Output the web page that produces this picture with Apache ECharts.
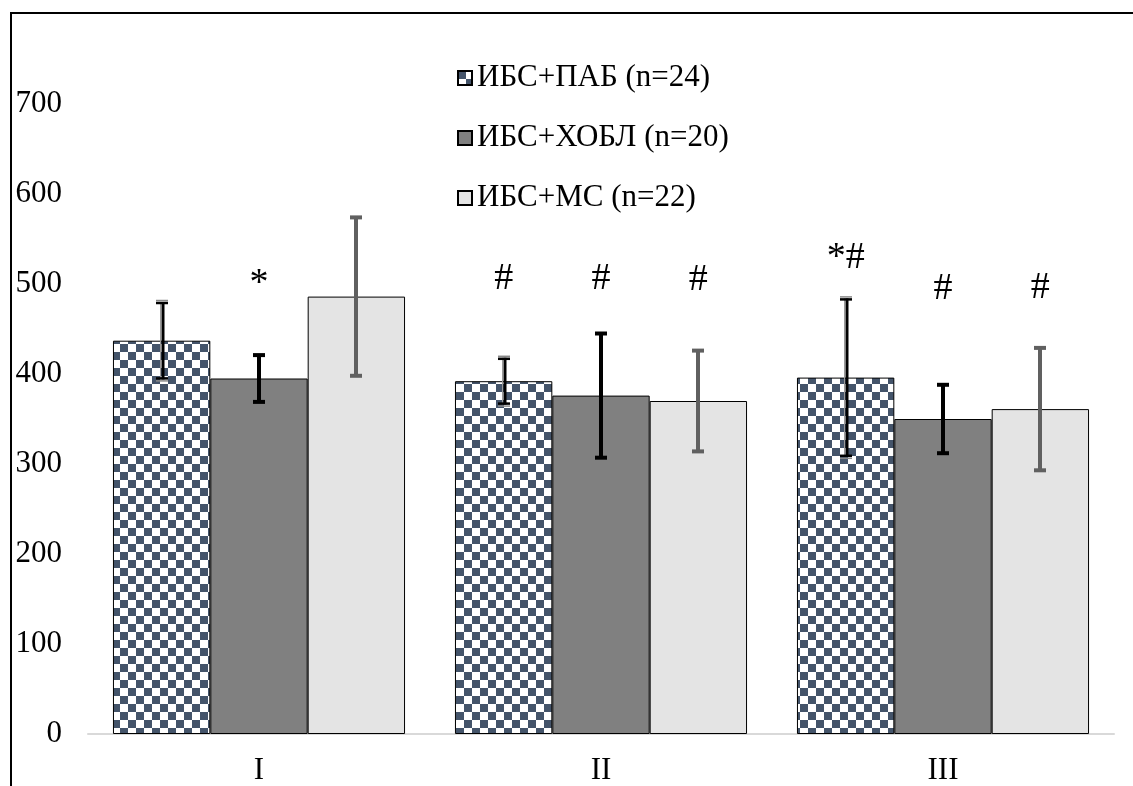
<!DOCTYPE html>
<html><head><meta charset="utf-8">
<script src="https://cdn.jsdelivr.net/npm/echarts@6/dist/echarts.min.js"></script>
<style>
html,body{margin:0;padding:0;background:#fff;}
#frame{position:absolute;left:10px;top:12px;width:1200px;height:900px;border-left:2px solid #000;border-top:2px solid #000;}
#chart{position:absolute;left:0;top:0;width:1133px;height:786px;}
</style></head>
<body>
<div id="frame"></div>
<div id="chart"></div>
<script>
const categories = ['I', 'II', 'III'];
const seriesNames = ['ИБС+ПАБ (n=24)', 'ИБС+ХОБЛ (n=20)', 'ИБС+МС (n=22)'];
const pabMean = [437, 392, 396];
const pabErr = [43, 26, 88];
const hoblMean = [395, 376, 350];
const hoblErr = [26, 69, 38];
const msMean = [486, 370, 361];
const msErr = [88, 56, 68];
const yTicks = [0, 100, 200, 300, 400, 500, 600, 700];
// annotations: [categoryIndex, seriesIndex, level, text]
const annotations = [
  [0, 1, 500, '*'],
  [1, 0, 505, '#'],
  [1, 1, 505, '#'],
  [1, 2, 504, '#'],
  [2, 0, 529, '*#'],
  [2, 1, 494, '#'],
  [2, 2, 496, '#']
];

const FONT = '"Liberation Serif", "Times New Roman", serif';
const GAP = 0.146;

// checker pattern
const pc = document.createElement('canvas');
pc.width = 16; pc.height = 16;
const ctx = pc.getContext('2d');
ctx.fillStyle = '#ffffff'; ctx.fillRect(0, 0, 16, 16);
ctx.fillStyle = '#44546A';
ctx.fillRect(0, 0, 8, 8); ctx.fillRect(8, 8, 8, 8);

const means = [pabMean, hoblMean, msMean];
const errs = [pabErr, hoblErr, msErr];
const fills = [{image: pc, repeat: 'repeat'}, '#808080', '#E4E4E4'];
const errColors = ['#000000', '#000000', '#606060'];

function barCenter(api, cat, s) {
  const band = api.size([1, 0])[0];
  const bw = band * (1 - GAP) / 3;
  const cx = api.coord([cat, 0])[0];
  return {x: cx + (s - 1) * bw, bw: bw};
}

const series = [];
for (let s = 0; s < 3; s++) {
  series.push({
    name: seriesNames[s], type: 'bar', barGap: 0, barCategoryGap: (GAP * 100) + '%',
    data: means[s],
    itemStyle: {color: fills[s], borderColor: '#000', borderWidth: 1},
    z: 2
  });
}
for (let s = 0; s < 3; s++) {
  series.push({
    type: 'custom', z: 5, silent: true,
    data: means[s].map((m, i) => [i, m, errs[s][i]]),
    renderItem: function (params, api) {
      const cat = api.value(0), m = api.value(1), e = api.value(2);
      const c = barCenter(api, cat, s);
      const yt = api.coord([cat, m + e])[1];
      const yb = api.coord([cat, m - e])[1];
      const x = Math.round(c.x);
      const cap = 6;
      const children = [];
      if (s === 0) {
        children.push({type: 'line', shape: {x1: x - 1.5, y1: yt, x2: x - 1.5, y2: yb}, style: {stroke: '#9a9a9a', lineWidth: 1}});
        children.push({type: 'line', shape: {x1: x + 1, y1: yt, x2: x + 1, y2: yb}, style: {stroke: '#000', lineWidth: 3}});
        children.push({type: 'line', shape: {x1: x - cap, y1: yt - 1.5, x2: x + cap, y2: yt - 1.5}, style: {stroke: '#888', lineWidth: 1.5}});
        children.push({type: 'line', shape: {x1: x - cap, y1: yt + 1, x2: x + cap, y2: yt + 1}, style: {stroke: '#000', lineWidth: 2.5}});
        children.push({type: 'line', shape: {x1: x - cap, y1: yb + 1.5, x2: x + cap, y2: yb + 1.5}, style: {stroke: '#888', lineWidth: 1.5}});
        children.push({type: 'line', shape: {x1: x - cap, y1: yb - 1, x2: x + cap, y2: yb - 1}, style: {stroke: '#000', lineWidth: 2.5}});
      } else {
        const st = {stroke: errColors[s], lineWidth: 4};
        children.push({type: 'line', shape: {x1: x, y1: yt, x2: x, y2: yb}, style: st});
        children.push({type: 'line', shape: {x1: x - cap, y1: yt, x2: x + cap, y2: yt}, style: st});
        children.push({type: 'line', shape: {x1: x - cap, y1: yb, x2: x + cap, y2: yb}, style: st});
      }
      return {type: 'group', children: children};
    }
  });
}
series.push({
  type: 'custom', z: 6, silent: true,
  data: annotations.map(a => [a[0], a[2], a[1], a[3]]),
  dimensions: ['cat', 'lvl', 'sidx', {name: 'txt', type: 'ordinal'}],
  renderItem: function (params, api) {
    const a = annotations[params.dataIndex];
    const c = barCenter(api, a[0], a[1]);
    const y = api.coord([a[0], a[2]])[1];
    return {type: 'text', style: {text: a[3], x: c.x, y: y, align: 'center', verticalAlign: 'middle',
      font: '38px ' + FONT, fill: '#000'}};
  }
});

const chart = echarts.init(document.getElementById('chart'), null, {renderer: 'canvas'});
chart.setOption({
  animation: false,
  backgroundColor: 'transparent',
  grid: {left: 88, right: 19, top: 104, bottom: 50},
  legend: {
    data: seriesNames, orient: 'vertical', left: 452, top: 57,
    icon: 'rect',
    itemWidth: 14, itemHeight: 14, itemGap: 28,
    textStyle: {fontFamily: FONT, fontSize: 31, color: '#000', lineHeight: 32, padding: [0, 0, 0, 0]},
    selectedMode: false
  },
  xAxis: {
    type: 'category', data: categories,
    axisLine: {lineStyle: {color: '#D9D9D9', width: 2}},
    axisTick: {show: false},
    axisLabel: {fontFamily: FONT, fontSize: 31, color: '#000', margin: 21}
  },
  yAxis: {
    type: 'value', min: yTicks[0], max: yTicks[yTicks.length - 1], interval: 100,
    axisLine: {show: false}, axisTick: {show: false}, splitLine: {show: false},
    axisLabel: {fontFamily: FONT, fontSize: 31, color: '#000', margin: 26}
  },
  series: series
});
</script>
</body></html>
